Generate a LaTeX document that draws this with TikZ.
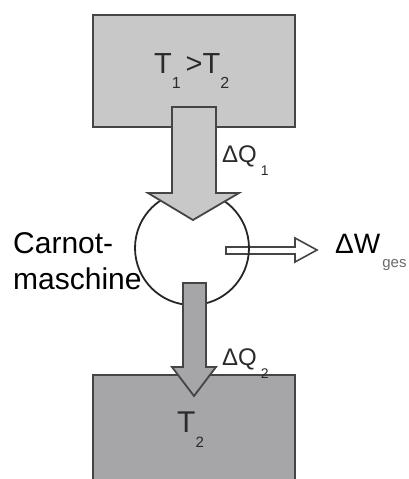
\documentclass[tikz,border=0pt]{standalone}
\usepackage{fontspec}
\setmainfont{Liberation Sans}
\definecolor{edge}{HTML}{454545}
\definecolor{hotgray}{HTML}{C8C8C8}
\definecolor{coldgray}{HTML}{A6A6A9}
\definecolor{txt}{HTML}{2A2A2A}
\definecolor{subgray}{HTML}{6A6A6A}
\newcommand\lowsub[3]{\raisebox{-#2pt}{\fontsize{#1}{#1}\selectfont #3}}
\begin{document}
\begin{tikzpicture}[x=1pt,y=-1pt,
  reservoir/.style={draw=edge, line width=2pt, inner sep=0pt, anchor=north west,
    minimum width=202pt},
  blockarrow/.style={draw=edge, line width=1.8pt, line join=miter},
  lab/.style={inner sep=0pt, anchor=base west, text=txt}]
\useasboundingbox (0,0) rectangle (409,479);
\clip (0,0) rectangle (409,479);
% reservoirs
\node[reservoir, fill=hotgray, minimum height=112pt] (hot) at (92,14) {};
\node[reservoir, fill=coldgray, minimum height=125pt] (cold) at (92,374) {};
% work arrow (under the circle line)
\draw[blockarrow, fill=white, line width=1.6pt]
  (226,247) -- (295,247) -- (295,238) -- (317,250) -- (295,262) -- (295,254) -- (226,254) -- cycle;
% engine
\node[draw=black!85, circle, minimum size=114pt, inner sep=0pt, line width=1.8pt] (engine) at (192,248) {};
% heat arrow in
\draw[blockarrow, fill=hotgray]
  (172,107) -- (216,107) -- (216,193) -- (239,193) -- (193,220) -- (148,193) -- (172,193) -- cycle;
% heat arrow out
\draw[blockarrow, fill=coldgray]
  (183,283) -- (206,283) -- (206,367) -- (216,367) -- (194,396) -- (172,367) -- (183,367) -- cycle;
% labels
\node[lab] (t1t2) at (154,73) {\fontsize{29}{29}\selectfont T\lowsub{16}{15}{1}\,>T\lowsub{16}{15}{2}};
\node[lab] (t2) at (177,432) {\fontsize{30}{30}\selectfont T\lowsub{15}{15}{2}};
\node[lab] (dq1) at (222,162) {\fontsize{24}{24}\selectfont ΔQ\hspace{4pt}\lowsub{14}{13}{1}};
\node[lab] (dq2) at (222,365) {\fontsize{24}{24}\selectfont ΔQ\hspace{4pt}\lowsub{14}{13}{2}};
\node[lab, text=black] (dw) at (335,253) {\fontsize{28}{28}\selectfont ΔW\hspace{2pt}\lowsub{15}{14}{\textcolor{subgray}{ges}}};
\node[lab, text=black] (carnot) at (13,253) {\fontsize{30}{30}\selectfont Carnot-};
\node[lab, text=black] (masch) at (13,289) {\fontsize{30}{30}\selectfont maschine};
\end{tikzpicture}
\end{document}
